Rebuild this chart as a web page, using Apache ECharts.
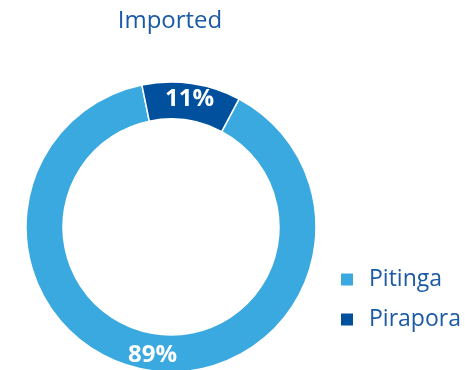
<!DOCTYPE html>
<html>
<head>
<meta charset="utf-8">
<script src="https://cdn.jsdelivr.net/npm/echarts@6/dist/echarts.min.js"></script>
<style>
  html, body { margin: 0; padding: 0; background: #fff; }
  #chart { width: 465px; height: 370px; }
</style>
</head>
<body>
<div id="chart"></div>
<script>
// Source share of imported material
const categories = ['Pitinga', 'Pirapora'];
const shares = [89, 11];
const colors = ['#3aa9df', '#00509e'];

const chart = echarts.init(document.getElementById('chart'), null, { renderer: 'canvas' });

const FONT = '"Open Sans", "Noto Sans", sans-serif';

chart.setOption({
  animation: false,
  title: {
    text: 'Imported',
    left: 170,
    top: 9,
    padding: 0,
    textAlign: 'center',
    textStyle: { color: '#1b5aa5', fontSize: 24, fontWeight: 'normal', fontFamily: FONT }
  },
  legend: {
    orient: 'vertical',
    left: 339,
    top: 268,
    padding: 0,
    icon: 'rect',
    itemWidth: 14,
    itemHeight: 14,
    itemGap: 17,
    data: categories,
    textStyle: {
      color: '#1b5aa5',
      fontSize: 23,
      fontFamily: FONT,
      lineHeight: 22,
      padding: [0, 0, 0, 10]
    }
  },
  series: [{
    type: 'pie',
    center: [171, 227],
    radius: [108, 145],
    startAngle: 62,
    clockwise: true,
    silent: true,
    itemStyle: { borderColor: '#fff', borderWidth: 1.5 },
    label: {
      show: true,
      position: 'inside',
      formatter: '{c}%',
      color: '#fff',
      fontSize: 24,
      fontWeight: 'bold',
      fontFamily: FONT
    },
    labelLine: { show: false },
    data: categories.map((name, i) => ({
      name: name,
      value: shares[i],
      itemStyle: { color: colors[i] }
    }))
  }]
});
</script>
</body>
</html>
